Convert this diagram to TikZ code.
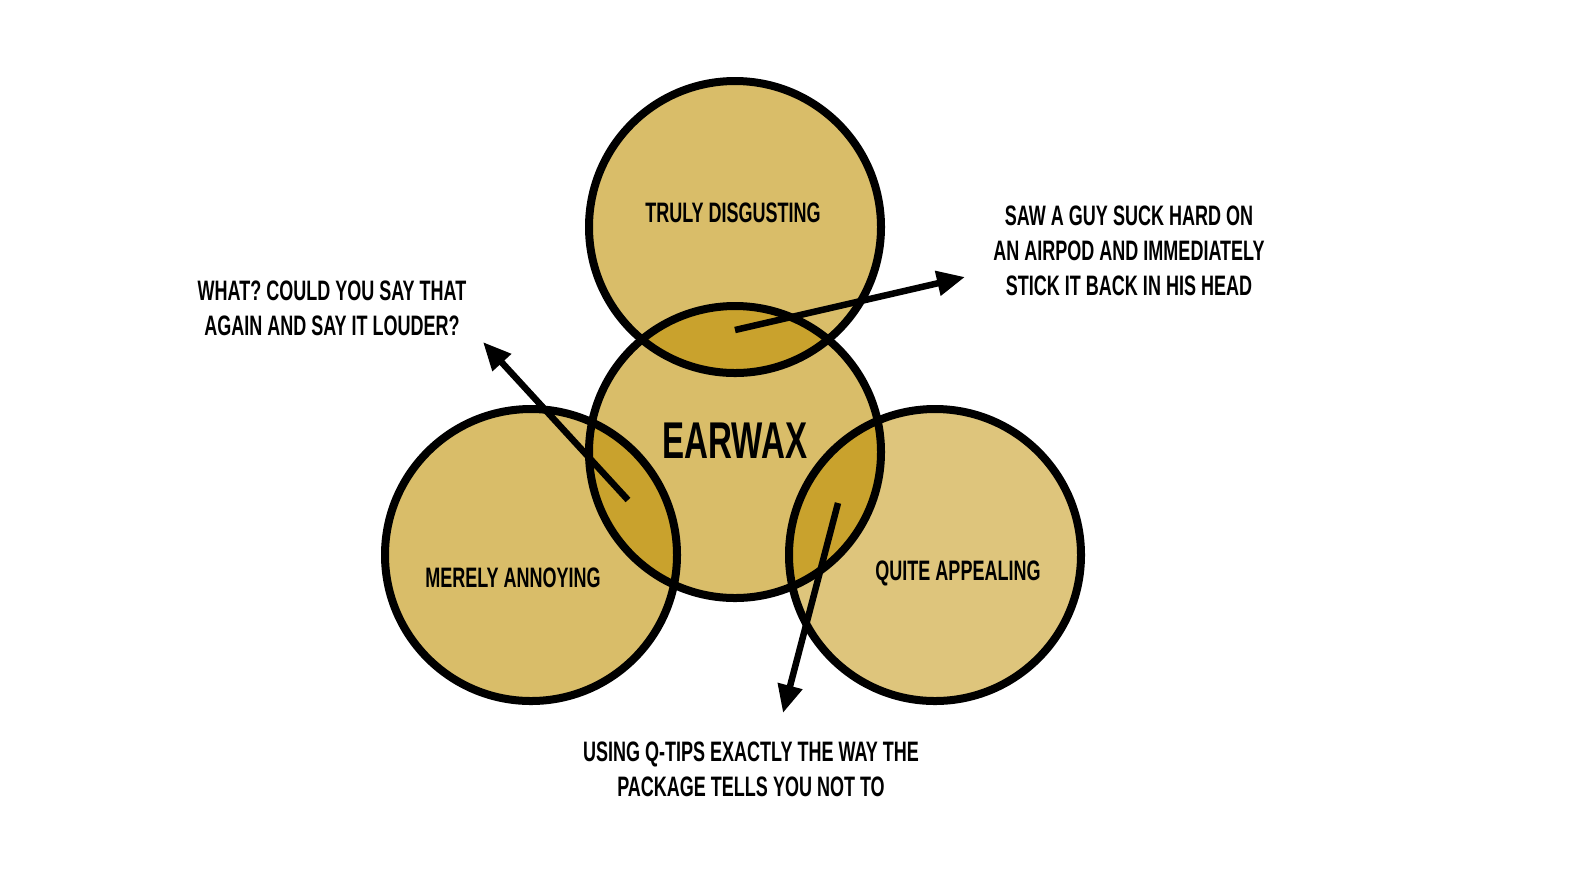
\documentclass[tikz,border=0pt]{standalone}
\usepackage{fontspec}
\newfontfamily\memefont[FakeStretch=0.64]{Liberation Sans}
\usetikzlibrary{arrows.meta}
\definecolor{waxgold}{HTML}{D9BD69}
\definecolor{waxlight}{HTML}{DEC57C}
\definecolor{waxdark}{HTML}{C9A22D}
\begin{document}
\begin{tikzpicture}[x=0.01cm,y=-0.01cm,
  ring/.style={line width=0.08cm},
  lbl/.style={font=\memefont\bfseries\fontsize{8}{10}\selectfont,align=center,inner sep=0pt},
  pointer/.style={line width=0.065cm,-{Triangle[length=0.28cm,width=0.24cm]}}]
\useasboundingbox[fill=white] (0,0) rectangle (1588,893);
\def\rad{146}
\coordinate (top) at (735,227);
\coordinate (mid) at (735,452);
\coordinate (left) at (531,555);
\coordinate (right) at (935,555);
% fills
\fill[waxgold] (top) circle[radius=\rad];
\fill[waxgold] (left) circle[radius=\rad];
\fill[waxlight] (right) circle[radius=\rad];
\fill[waxgold] (mid) circle[radius=\rad];
\begin{scope}
  \clip (mid) circle[radius=\rad];
  \fill[waxdark] (top) circle[radius=\rad];
  \fill[waxdark] (left) circle[radius=\rad];
  \fill[waxdark] (right) circle[radius=\rad];
\end{scope}
% outlines
\draw[ring] (top) circle[radius=\rad];
\draw[ring] (mid) circle[radius=\rad];
\draw[ring] (left) circle[radius=\rad];
\draw[ring] (right) circle[radius=\rad];
% labels
\node[lbl] (disgust) at (733,213) {TRULY DISGUSTING};
\node[lbl,font=\memefont\bfseries\fontsize{14.7}{16}\selectfont] (wax) at (735,441) {EARWAX};
\node[lbl] (annoy) at (513,578) {MERELY ANNOYING};
\node[lbl] (appeal) at (958,573) {QUITE APPEALING};
\node[lbl] (airpod) at (1129,251) {SAW A GUY SUCK HARD ON\\AN AIRPOD AND IMMEDIATELY\\STICK IT BACK IN HIS HEAD};
\node[lbl] (louder) at (332,308) {WHAT? COULD YOU SAY THAT\\AGAIN AND SAY IT LOUDER?};
\node[lbl] (qtips) at (751,769) {USING Q-TIPS EXACTLY THE WAY THE\\PACKAGE TELLS YOU NOT TO};
% arrows
\coordinate (a1) at (735,330);
\coordinate (b1) at (965,277);
\coordinate (a2) at (628,500);
\coordinate (b2) at (483,342);
\coordinate (a3) at (838,503);
\coordinate (b3) at (783,713);
\draw[pointer] (a1) -- (b1);
\draw[pointer] (a2) -- (b2);
\draw[pointer] (a3) -- (b3);
\end{tikzpicture}
\end{document}
